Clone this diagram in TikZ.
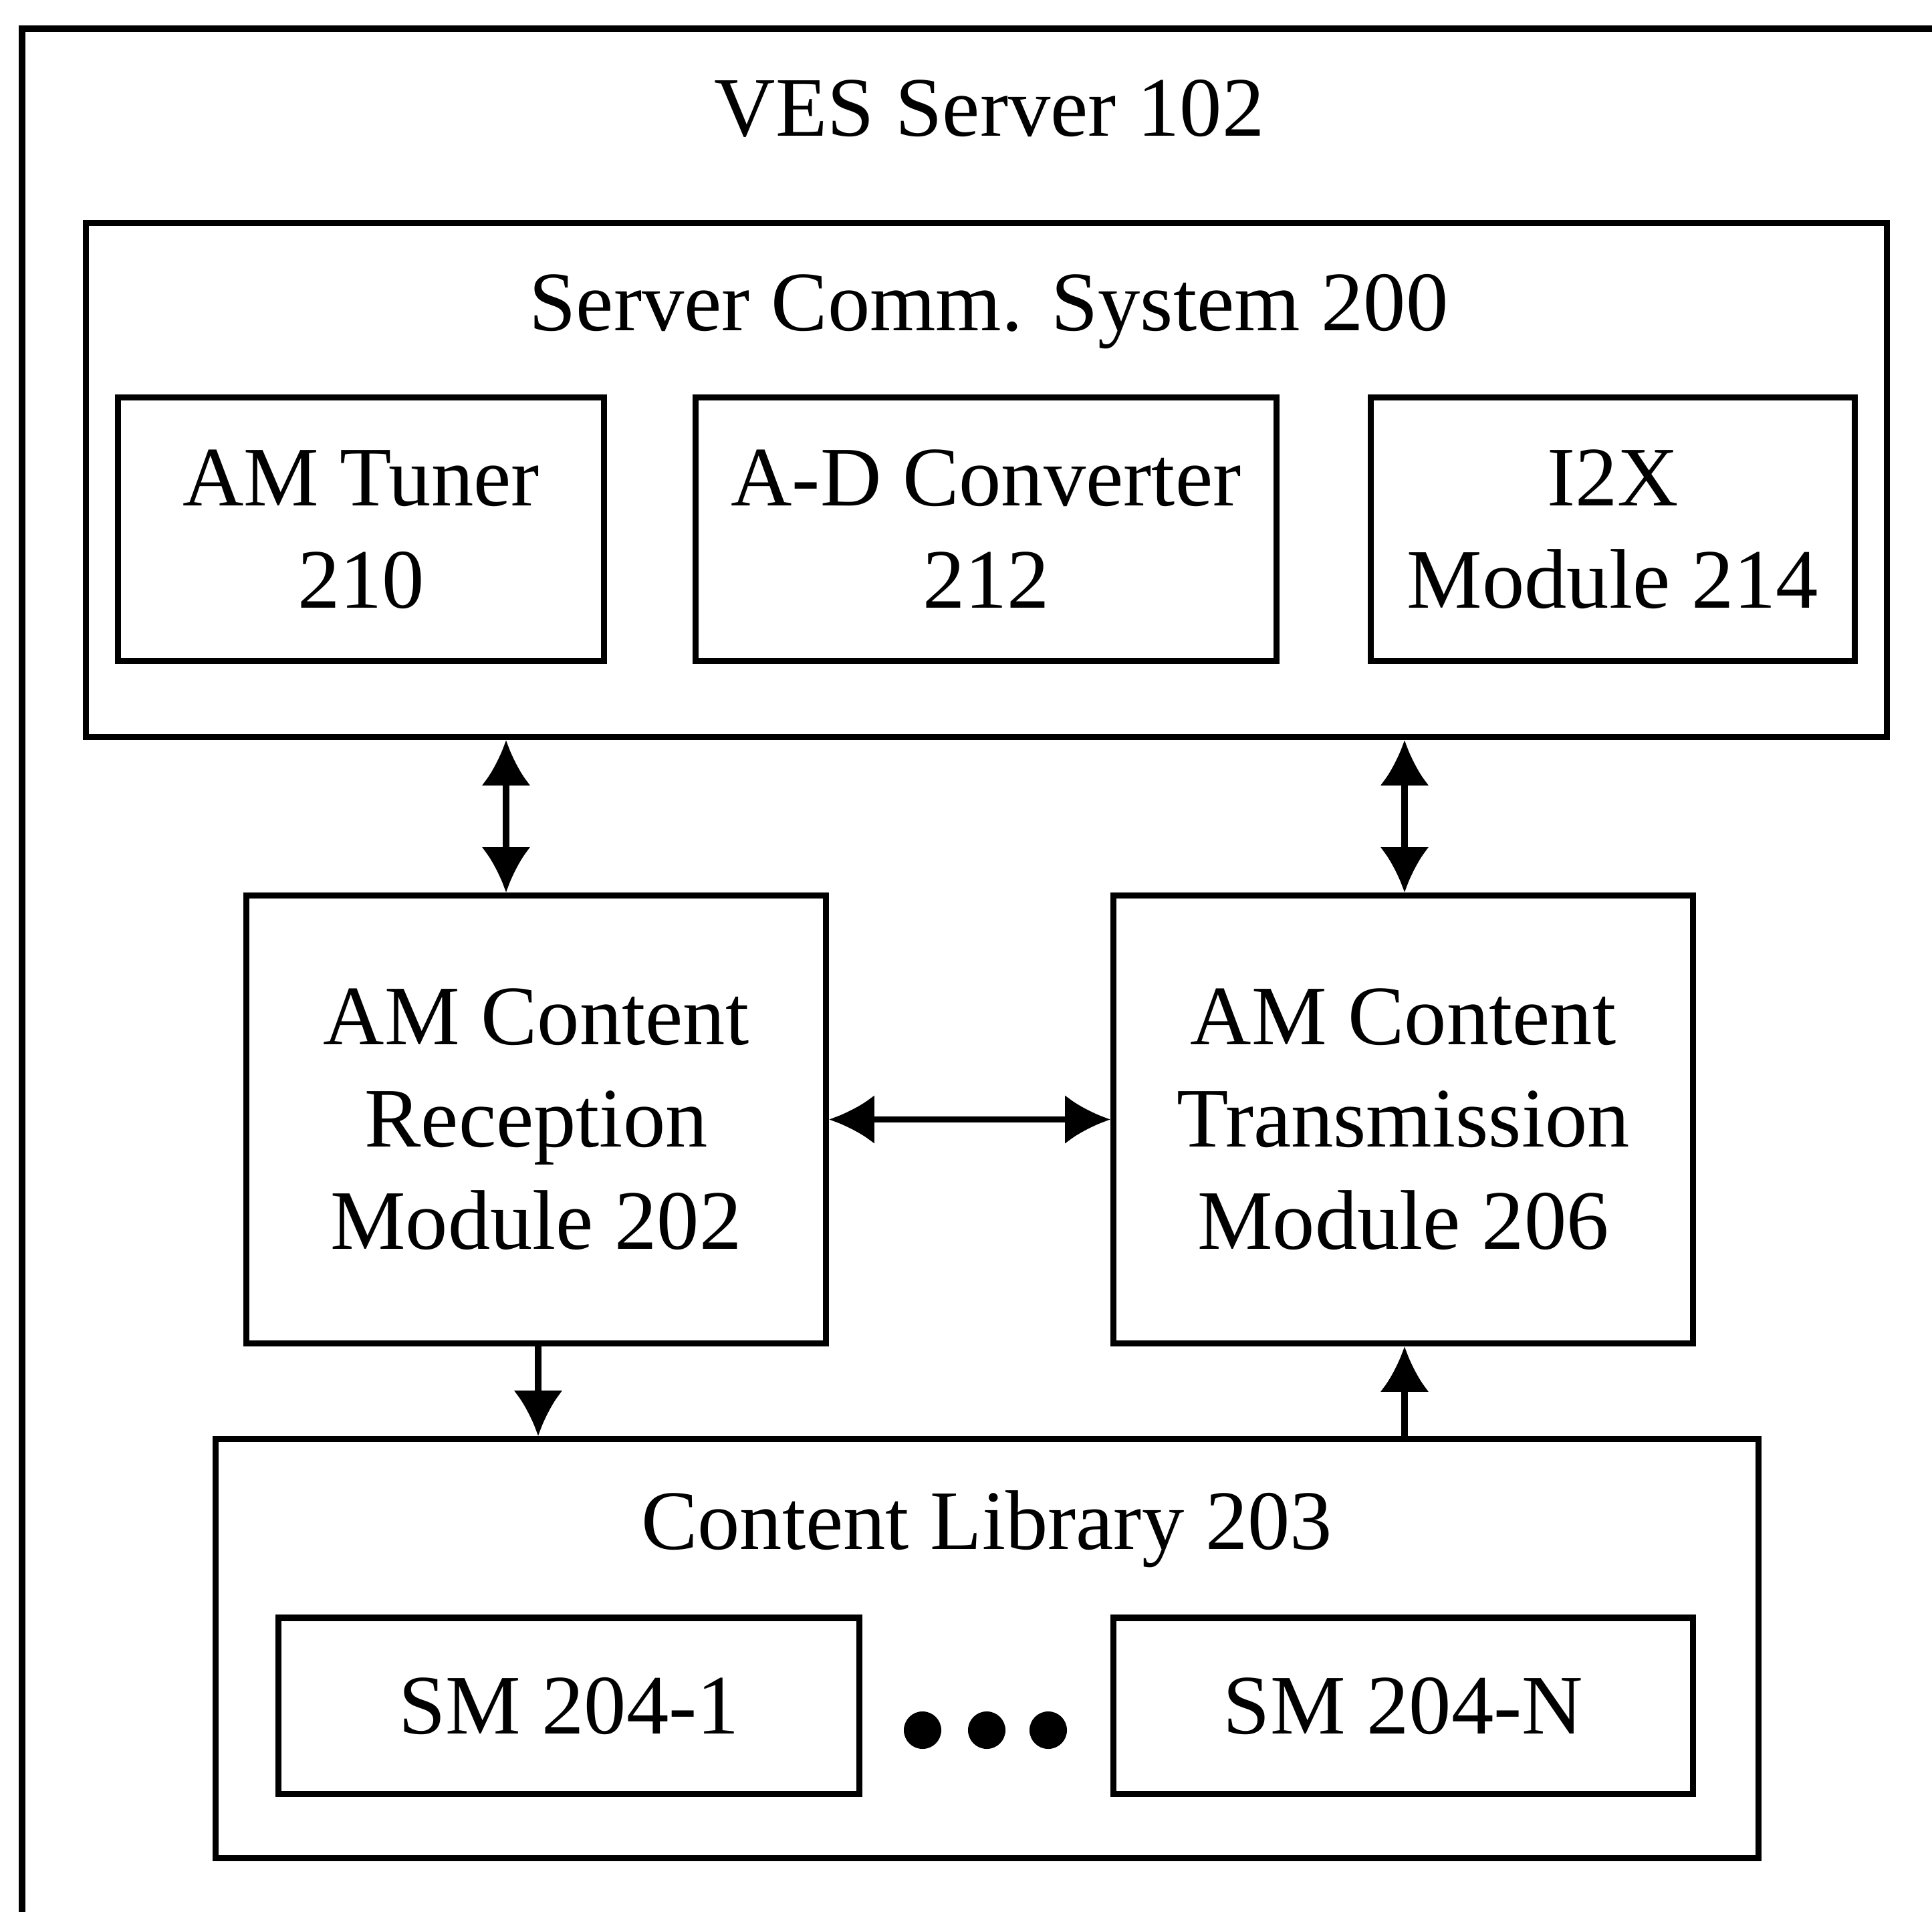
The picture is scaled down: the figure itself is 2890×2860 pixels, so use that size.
\documentclass[tikz,border=0pt]{standalone}
\usepackage{fontspec}
\setmainfont{Liberation Serif}
\usetikzlibrary{arrows.meta}
\tikzset{
  box/.style={draw, line width=2.6pt, inner sep=0pt, align=center, font=\fontsize{36}{43.5}\selectfont},
  lbl/.style={inner sep=0pt, anchor=base, font=\fontsize{36}{43.5}\selectfont},
  conn/.style={line width=2.6pt, {Latex[length=6.8mm,width=7.3mm]}-{Latex[length=6.8mm,width=7.3mm]}},
  oneway/.style={line width=2.6pt, -{Latex[length=6.8mm,width=7.3mm]}},
  dot/.style={circle, fill, inner sep=0pt, minimum size=0.56cm}
}
\begin{document}
\begin{tikzpicture}[x=0.01cm,y=-0.01cm]
\useasboundingbox (0,0) rectangle (2890,2860);
% outer VES server box (cropped at right and bottom)
\draw[line width=2.6pt] (2900,43) -- (33,43) -- (33,2870);
\node[lbl] (ves) at (1480,203) {VES Server 102};

% server comm system
\node[box, minimum width=26.93cm, minimum height=7.68cm] (comm) at (1475.5,718) {};
\node[lbl] (commt) at (1479,494) {Server Comm. System 200};
\node[box, minimum width=7.26cm, minimum height=3.93cm] (tuner) at (540,791.5) {AM Tuner\\210};
\node[box, minimum width=8.68cm, minimum height=3.93cm] (adc) at (1475,791.5) {A-D Converter\\212};
\node[box, minimum width=7.23cm, minimum height=3.93cm] (i2x) at (2412.5,791.5) {I2X\\Module 214};

% modules
\node[box, minimum width=8.66cm, minimum height=6.69cm] (rec) at (802,1674.5) {AM Content\\Reception\\Module 202};
\node[box, minimum width=8.66cm, minimum height=6.69cm] (tx) at (2099,1674.5) {AM Content\\Transmission\\Module 206};

% content library
\node[box, minimum width=23.07cm, minimum height=6.26cm] (lib) at (1476.5,2466) {};
\node[lbl] (libt) at (1476,2317) {Content Library 203};
\node[box, minimum width=8.68cm, minimum height=2.63cm] (sm1) at (851,2551.5) {SM 204-1};
\node[box, minimum width=8.66cm, minimum height=2.63cm] (smn) at (2099,2551.5) {SM 204-N};
\node[dot] (d1) at (1380,2588) {};
\node[dot] (d2) at (1476,2588) {};
\node[dot] (d3) at (1568,2588) {};

% connectors
\coordinate (la) at (757,1200);
\coordinate (ra) at (2101,1200);
\draw[conn] (la |- comm.south) -- (la |- rec.north);
\draw[conn] (ra |- comm.south) -- (ra |- tx.north);
\draw[conn] (rec.east) -- (tx.west);
\coordinate (da) at (805,2080);
\draw[oneway] (da |- rec.south) -- (da |- lib.north);
\draw[oneway] (ra |- lib.north) -- (ra |- tx.south);
\end{tikzpicture}
\end{document}
